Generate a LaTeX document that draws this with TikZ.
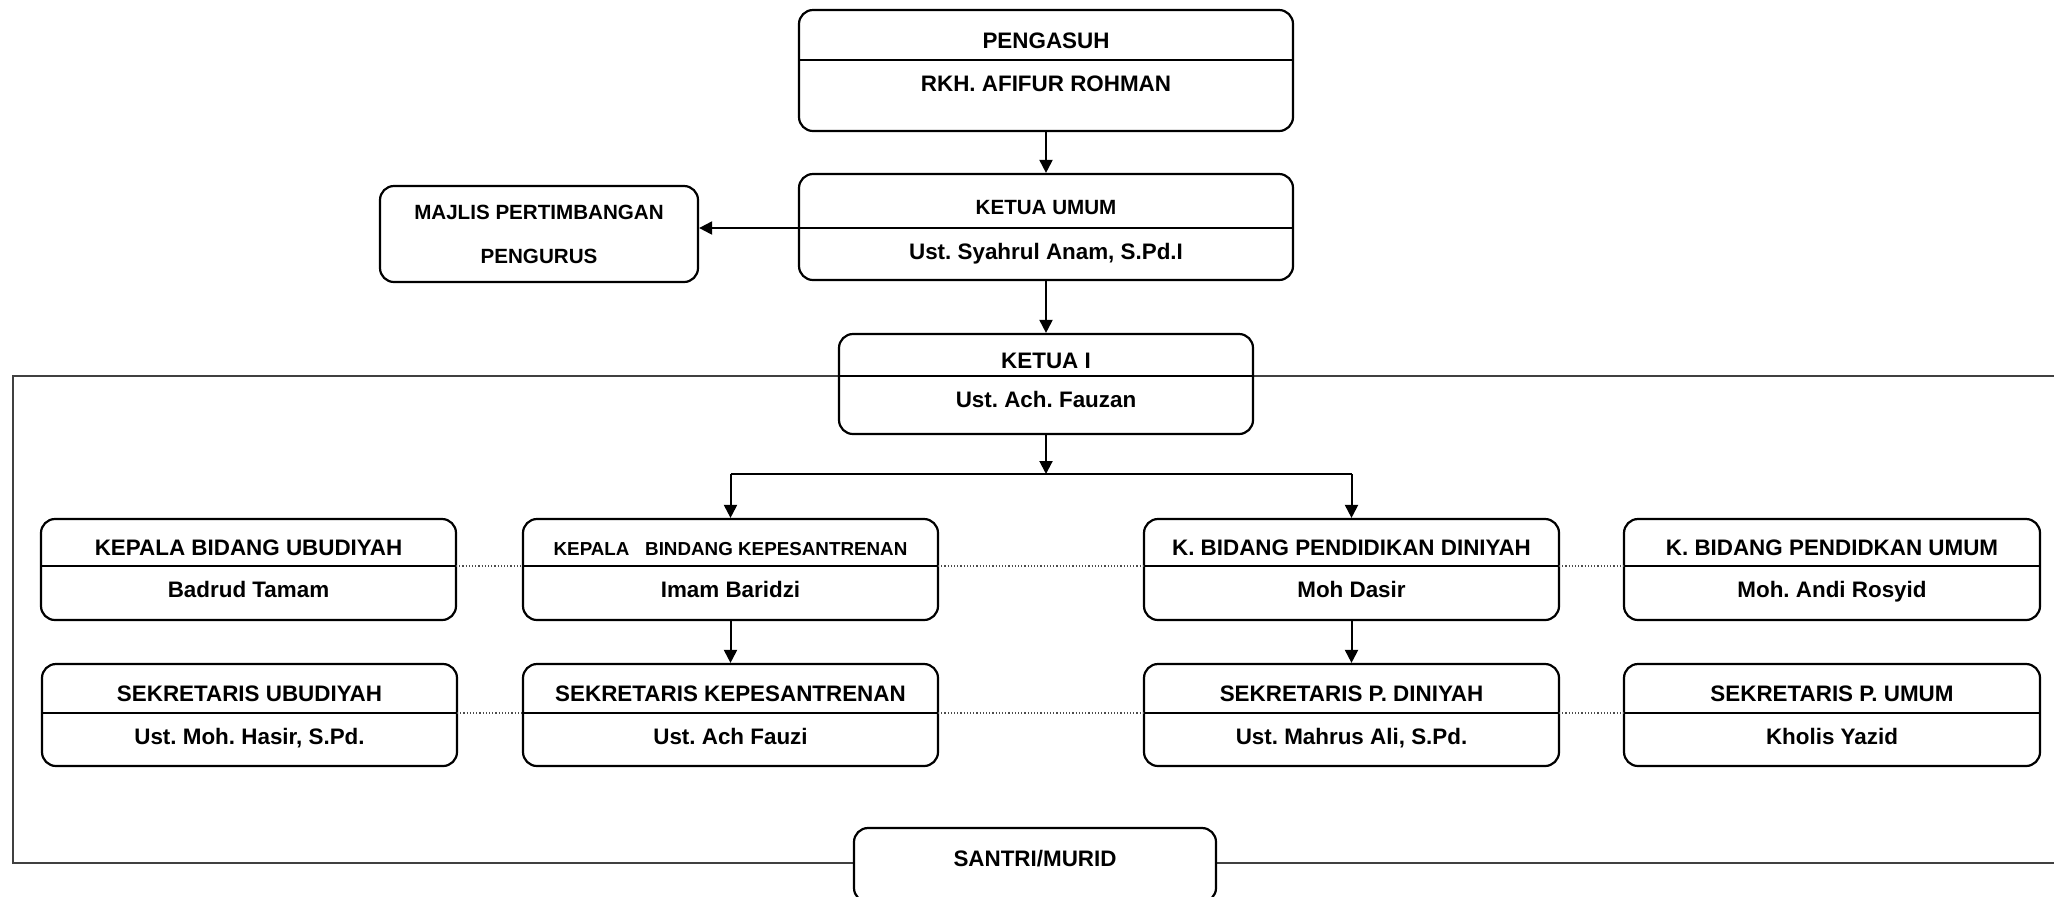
\documentclass[tikz,border=0pt]{standalone}
\usepackage{fontspec}
\setmainfont{Liberation Sans}
\usepackage{tikz}
\usetikzlibrary{arrows.meta, fit}
\frenchspacing
\tikzset{
  orgbox/.style={rectangle, rounded corners=7pt, draw=black, fill=white,
                 line width=1.1pt, inner sep=0pt},
  divline/.style={line width=1pt},
  boxtext/.style={font=\bfseries\fontsize{11.2}{13}\selectfont, inner sep=0pt},
  arrow/.style={-{Triangle[length=6.5pt, width=6.5pt]}, line width=1pt},
  link/.style={line width=1pt},
  dotline/.style={densely dotted, line width=0.6pt, draw=black!70},
  frameline/.style={line width=0.8pt, draw=black!75},
}
% name, left, right, top, divider, bottom, title, person
\newcommand{\orgunit}[8]{%
  \node[orgbox, fit={(#2,#4) (#3,#6)}] (#1) {};
  \coordinate (#1-dl) at (#2,#5);
  \coordinate (#1-dr) at (#3,#5);
  \draw[divline] (#1-dl) -- (#1-dr);
  \node[boxtext, anchor=base] (#1-t) at ({(#2+#3)/2},{(#4+#5)/2+13}) {#7};
  \node[boxtext, anchor=base] (#1-n) at ({(#2+#3)/2},#5+31) {#8};
}

\begin{document}
\begin{tikzpicture}[x=0.5pt, y=-0.5pt]
  \useasboundingbox (0,0) rectangle (2054,896);
  \clip (0,0) rectangle (2054,896);

  % Frame round the units
  \draw[frameline] (2054,376) -- (13,376) -- (13,863) -- (2054,863);

  % Leadership
  \orgunit{peng}{799}{1293}{10}{60}{131}{PENGASUH}{RKH. AFIFUR ROHMAN}
  \orgunit{ketum}{799}{1293}{174}{228}{280}{\fontsize{10.3}{12}\selectfont KETUA UMUM}{Ust. Syahrul Anam, S.Pd.I}
  \orgunit{ketua1}{839}{1253}{334}{376}{434}{KETUA I}{Ust. Ach. Fauzan}

  \node[orgbox, fit={(380,186) (698,282)}] (majlis) {};
  \node[boxtext, align=center, font=\bfseries\fontsize{10.3}{22}\selectfont] (majlis-t) at (majlis.center) {MAJLIS PERTIMBANGAN\\PENGURUS};

  % Heads of departments
  \orgunit{ubud}{41}{456}{519}{566}{620}{KEPALA BIDANG UBUDIYAH}{Badrud Tamam}
  \orgunit{kpsn}{523}{938}{519}{566}{620}{\fontsize{9.4}{11}\selectfont KEPALA~~~BINDANG KEPESANTRENAN}{Imam Baridzi}
  \orgunit{dinyh}{1144}{1559}{519}{566}{620}{K. BIDANG PENDIDIKAN DINIYAH}{Moh Dasir}
  \orgunit{umum}{1624}{2040}{519}{566}{620}{K. BIDANG PENDIDKAN UMUM}{Moh. Andi Rosyid}

  % Secretaries
  \orgunit{sekubud}{42}{457}{664}{713}{766}{SEKRETARIS UBUDIYAH}{Ust. Moh. Hasir, S.Pd.}
  \orgunit{sekkpsn}{523}{938}{664}{713}{766}{SEKRETARIS KEPESANTRENAN}{Ust. Ach Fauzi}
  \orgunit{sekdin}{1144}{1559}{664}{713}{766}{SEKRETARIS P. DINIYAH}{Ust. Mahrus Ali, S.Pd.}
  \orgunit{sekumum}{1624}{2040}{664}{713}{766}{SEKRETARIS P. UMUM}{Kholis Yazid}

  % Students
  \node[orgbox, fit={(854,828) (1216,902)}] (santri) {};
  \node[boxtext, anchor=base] (santri-t) at (1035,866) {SANTRI/MURID};

  % Arrows
  \draw[arrow] (peng) -- (ketum);
  \draw[arrow] (ketum-dl) -- (majlis.east |- ketum-dl);
  \draw[arrow] (ketum) -- (ketua1);
  \coordinate (split) at (1046,474);
  \draw[arrow] (ketua1) -- (split);
  \draw[link] (kpsn.north |- split) -- (dinyh.north |- split);
  \draw[arrow] (kpsn.north |- split) -- (kpsn);
  \draw[arrow] (dinyh.north |- split) -- (dinyh);
  \draw[arrow] (kpsn) -- (sekkpsn);
  \draw[arrow] (dinyh) -- (sekdin);

  % Dotted links between units
  \foreach \a/\b in {ubud/kpsn, kpsn/dinyh, dinyh/umum, sekubud/sekkpsn, sekkpsn/sekdin, sekdin/sekumum}
    \draw[dotline] (\a-dr) -- (\b-dl);

\end{tikzpicture}
\end{document}
